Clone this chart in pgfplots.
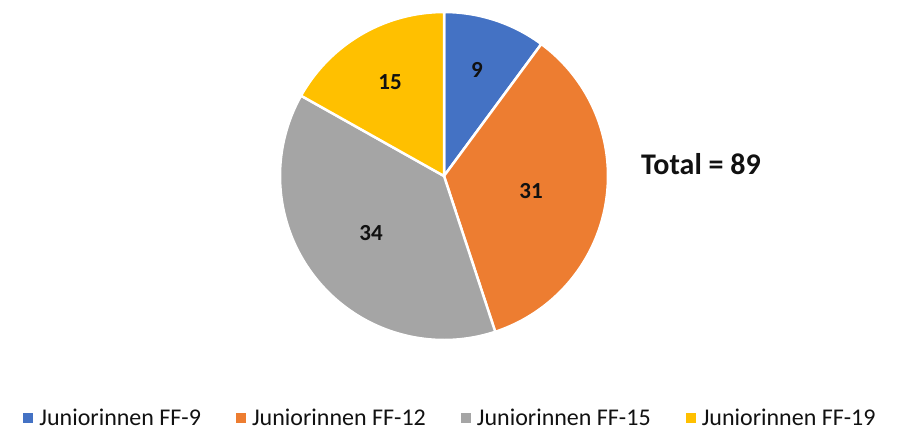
\documentclass[border=0pt]{standalone}
\usepackage{pgfplots}
\pgfplotsset{compat=1.18}
\usepackage{fontspec}
\setmainfont{Carlito}
\definecolor{cBlue}{HTML}{4472C4}
\definecolor{cOrange}{HTML}{ED7D31}
\definecolor{cGray}{HTML}{A5A5A5}
\definecolor{cYellow}{HTML}{FFC000}
\definecolor{cText}{HTML}{111111}
% slice values
\def\vA{9}\def\vB{31}\def\vC{34}\def\vD{15}
\pgfmathsetmacro{\tot}{\vA+\vB+\vC+\vD}
\pgfmathsetmacro{\aA}{90}
\pgfmathsetmacro{\aB}{90-(\vA/\tot)*360}
\pgfmathsetmacro{\aC}{90-((\vA+\vB)/\tot)*360}
\pgfmathsetmacro{\aD}{90-((\vA+\vB+\vC)/\tot)*360}
\pgfmathsetmacro{\aE}{90-360}
\def\cx{444}\def\cy{176}\def\rr{164}
\begin{document}
\begin{tikzpicture}
\begin{axis}[
  scale only axis, width=899pt, height=432pt,
  xmin=0, xmax=899, ymin=0, ymax=432, y dir=reverse,
  hide axis, clip=false,
  legend columns=4,
  legend style={draw=none, fill=none, at={(0.5,0.032)}, anchor=center,
    font=\fontsize{24}{28}\selectfont, text=cText, nodes={inner sep=0pt},
    /tikz/every odd column/.append style={column sep=6pt},
    /tikz/every even column/.append style={column sep=35pt}},
  legend image code/.code={\fill[#1, draw=none] (0pt,-5pt) rectangle (10pt,5pt);},
]
\path (axis cs:0,0) rectangle (axis cs:899,432);
\addplot[fill=cBlue, draw=white, line width=2.5pt, domain=\aB:\aA, samples=40]
  ({\cx+\rr*cos(x)}, {\cy-\rr*sin(x)}) -- (axis cs:\cx,\cy) -- cycle;
\addlegendentry{Juniorinnen FF-9}
\addplot[fill=cOrange, draw=white, line width=2.5pt, domain=\aC:\aB, samples=100]
  ({\cx+\rr*cos(x)}, {\cy-\rr*sin(x)}) -- (axis cs:\cx,\cy) -- cycle;
\addlegendentry{Juniorinnen FF-12}
\addplot[fill=cGray, draw=white, line width=2.5pt, domain=\aD:\aC, samples=100]
  ({\cx+\rr*cos(x)}, {\cy-\rr*sin(x)}) -- (axis cs:\cx,\cy) -- cycle;
\addlegendentry{Juniorinnen FF-15}
\addplot[fill=cYellow, draw=white, line width=2.5pt, domain=\aE:\aD, samples=50]
  ({\cx+\rr*cos(x)}, {\cy-\rr*sin(x)}) -- (axis cs:\cx,\cy) -- cycle;
\addlegendentry{Juniorinnen FF-19}
\node[font=\fontsize{23}{26}\selectfont\bfseries, text=cText, inner sep=0pt] at (axis cs:477,70) {\vA};
\node[font=\fontsize{23}{26}\selectfont\bfseries, text=cText, inner sep=0pt] at (axis cs:531,191) {\vB};
\node[font=\fontsize{23}{26}\selectfont\bfseries, text=cText, inner sep=0pt] at (axis cs:371,233) {\vC};
\node[font=\fontsize{23}{26}\selectfont\bfseries, text=cText, inner sep=0pt] at (axis cs:390,82) {\vD};
\node[font=\fontsize{30}{34}\selectfont\bfseries, text=cText, inner sep=0pt] at (axis cs:701,164) {Total = 89};
\end{axis}
\end{tikzpicture}
\end{document}
